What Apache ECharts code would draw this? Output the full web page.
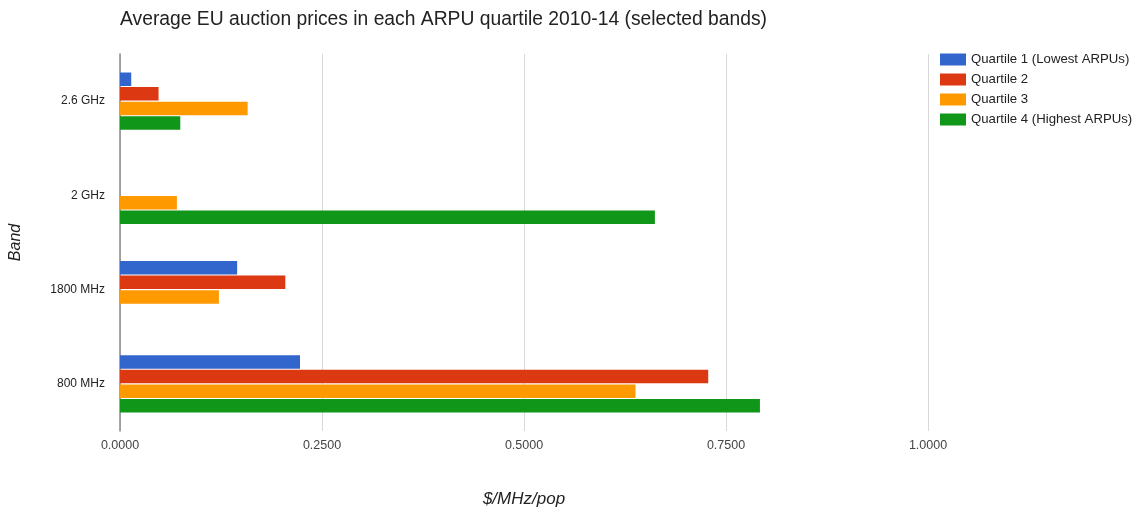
<!DOCTYPE html>
<html>
<head>
<meta charset="utf-8">
<script src="https://cdn.jsdelivr.net/npm/echarts@6/dist/echarts.min.js"></script>
<style>
  html, body { margin: 0; padding: 0; background: #fff; }
  #chart { width: 1142px; height: 513px; }
</style>
</head>
<body>
<div id="chart"></div>
<script>
// Spectrum bands, listed top to bottom
const bands = ['2.6 GHz', '2 GHz', '1800 MHz', '800 MHz'];

// Average price in $/MHz/pop per ARPU quartile (null = no auction)
const quartile1 = [0.0139, null, 0.1450, 0.2228];
const quartile2 = [0.0477, null, 0.2046, 0.7280];
const quartile3 = [0.1580, 0.0704, 0.1224, 0.6380];
const quartile4 = [0.0746, 0.6620, null, 0.7920];

const seriesNames = [
  'Quartile 1 (Lowest ARPUs)',
  'Quartile 2',
  'Quartile 3',
  'Quartile 4 (Highest ARPUs)'
];
const xTicks = [0, 0.25, 0.5, 0.75, 1.0];

const colors = ['#3366cc', '#dc3912', '#ff9900', '#109618'];
const font = 'Liberation Sans, Arial, sans-serif';

const chart = echarts.init(document.getElementById('chart'), null, { renderer: 'canvas' });

const seriesData = [quartile1, quartile2, quartile3, quartile4];

chart.setOption({
  animation: false,
  color: colors,
  title: {
    text: 'Average EU auction prices in each ARPU quartile 2010-14 (selected bands)',
    left: 115,
    top: 5,
    textStyle: { fontFamily: font, fontSize: 19.3, fontWeight: 'normal', color: '#222' }
  },
  legend: {
    orient: 'vertical',
    left: 935,
    top: 48,
    itemWidth: 26,
    itemHeight: 12,
    itemGap: 7,
    icon: 'rect',
    textStyle: { fontFamily: font, fontSize: 13.2, color: '#222' },
    data: seriesNames
  },
  grid: { left: 120, right: 214, top: 54, bottom: 75, containLabel: false },
  xAxis: {
    type: 'value',
    min: 0,
    max: 1,
    interval: 0.25,
    name: '$/MHz/pop',
    nameLocation: 'middle',
    nameGap: 60,
    nameTextStyle: { fontFamily: font, fontSize: 17, fontStyle: 'italic', color: '#222' },
    axisLine: { show: false },
    axisTick: { show: false },
    axisLabel: {
      fontFamily: font, fontSize: 12.5, color: '#444', margin: 8,
      formatter: v => xTicks.includes(v) ? v.toFixed(4) : ''
    },
    splitLine: { show: true, lineStyle: { color: '#d9d9d9', width: 1 } }
  },
  yAxis: {
    type: 'category',
    data: bands,
    inverse: true,
    name: 'Band',
    nameLocation: 'middle',
    nameGap: 96,
    nameRotate: 90,
    nameTextStyle: { fontFamily: font, fontSize: 16, fontStyle: 'italic', color: '#222' },
    axisLine: { show: true, lineStyle: { color: '#888', width: 1.5 } },
    axisTick: { show: false },
    axisLabel: { fontFamily: font, fontSize: 12, color: '#222', margin: 15 },
    splitLine: { show: false }
  },
  series: seriesNames.map((name, i) => ({
    name: name,
    type: 'bar',
    data: seriesData[i],
    barWidth: 13.5,
    barGap: '8%',
    itemStyle: { color: colors[i] }
  }))
});
</script>
</body>
</html>
